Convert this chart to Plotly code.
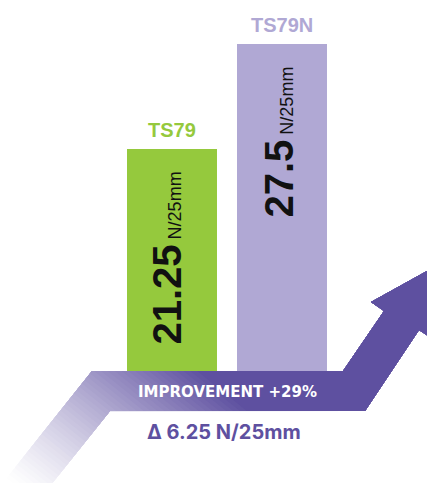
import plotly.graph_objects as go

# ---- data ----
categories = ["TS79", "TS79N"]
values = [21.25, 27.5]
unit = "N/25mm"

# ---- styles ----
bar_colors = ["#95c93d", "#b0a8d4"]
label_colors = ["#95c93d", "#b0a8d4"]
value_xshift = [-6, -4]
PURPLE_RGB = (94, 80, 160)
PURPLE = "#5e50a0"
W, H = 427, 483

# decorative arrow outline (pixel space of the canvas)
arrow_pts = [(-11, 500), (92, 371), (343, 371), (384, 311), (371, 302), (438, 265),
             (431, 338), (419, 330), (365, 411), (110, 411), (39, 500)]

delta = values[1] - values[0]
pct = round(delta / values[0] * 100)

fig = go.Figure()
fig.add_trace(go.Bar(
    x=categories, y=values, width=0.818,
    marker=dict(color=bar_colors, line=dict(width=0)),
    xaxis="x", yaxis="y", hoverinfo="skip", showlegend=False,
))

# ---- arrow with a fade along the tail direction (layered, no seams) ----
dx, dy = 0.627, -0.778


def proj(p):
    return dx * p[0] + dy * p[1]


def clip(poly, t):
    out = []
    n = len(poly)
    for i in range(n):
        P, Q = poly[i], poly[(i + 1) % n]
        uP, uQ = proj(P) - t, proj(Q) - t
        if uP >= 0:
            out.append(P)
        if (uP >= 0) != (uQ >= 0):
            s = uP / (uP - uQ)
            out.append((P[0] + s * (Q[0] - P[0]), P[1] + s * (Q[1] - P[1])))
    return out


u_lo, u_hi = -372.0, -165.0
N = 48
for k in range(N + 1):
    t = u_lo + (u_hi - u_lo) * k / N
    frac = min(1.0, max(0.0, (t - u_lo) / (u_hi - u_lo)))
    a = frac ** 1.25
    col = tuple(round(255 + (c - 255) * a) for c in PURPLE_RGB)
    poly = arrow_pts if k == 0 else clip(arrow_pts, t)
    if len(poly) < 3:
        continue
    xs = [p[0] for p in poly] + [poly[0][0]]
    ys = [p[1] for p in poly] + [poly[0][1]]
    fig.add_trace(go.Scatter(
        x=xs, y=ys, xaxis="x2", yaxis="y2", mode="lines",
        line=dict(width=0), fill="toself", fillcolor=f"rgb{col}",
        hoverinfo="skip", showlegend=False,
    ))

# axis geometry
px_per_unit = 16.8
zero_px = 506.0
bottom_px = 371.0
bar_center0 = 172.0
bar_step = 110.0

annotations = []
for i, (c, v) in enumerate(zip(categories, values)):
    annotations.append(dict(
        x=c, y=v, xref="x", yref="y", text=c, showarrow=False,
        font=dict(family="Liberation Sans", size=20, color=label_colors[i], weight=700),
        yanchor="bottom", yshift=6,
    ))
    annotations.append(dict(
        x=c, y=v, xref="x", yref="y",
        text=f"<b>{v:g}</b><span style='font-size:18px'> {unit}</span>",
        showarrow=False, textangle=-90,
        font=dict(family="Liberation Sans", size=40, color="#111111"),
        yanchor="top", yshift=-21, xshift=value_xshift[i],
    ))

annotations.append(dict(
    x=227 / W, y=1 - 392 / H, xref="paper", yref="paper", showarrow=False,
    xanchor="center", yanchor="middle",
    text=f"IMPROVEMENT +{pct}%",
    font=dict(family="DejaVu Sans", size=15, color="white", weight=700),
))
annotations.append(dict(
    x=224 / W, y=1 - 432 / H, xref="paper", yref="paper", showarrow=False,
    xanchor="center", yanchor="middle",
    text=f"Δ {delta:g} {unit}",
    font=dict(family="Inter", size=20, color=PURPLE, weight=700),
))

fig.update_layout(
    width=W, height=H, autosize=False,
    margin=dict(l=0, r=0, t=0, b=0),
    paper_bgcolor="white", plot_bgcolor="rgba(0,0,0,0)",
    showlegend=False,
    xaxis=dict(domain=[0, 1], range=[-bar_center0 / bar_step, (W - bar_center0) / bar_step],
               visible=False, fixedrange=True),
    yaxis=dict(domain=[1 - bottom_px / H, 1],
               range=[(zero_px - bottom_px) / px_per_unit, zero_px / px_per_unit],
               visible=False, fixedrange=True),
    xaxis2=dict(domain=[0, 1], range=[0, W], visible=False, anchor="y2", fixedrange=True),
    yaxis2=dict(domain=[0, 1], range=[H, 0], visible=False, anchor="x2", fixedrange=True),
    annotations=annotations,
)

fig.write_html("out.html", config={"displayModeBar": False},
               post_script="document.body.style.margin='0';document.body.style.overflow='hidden';")
